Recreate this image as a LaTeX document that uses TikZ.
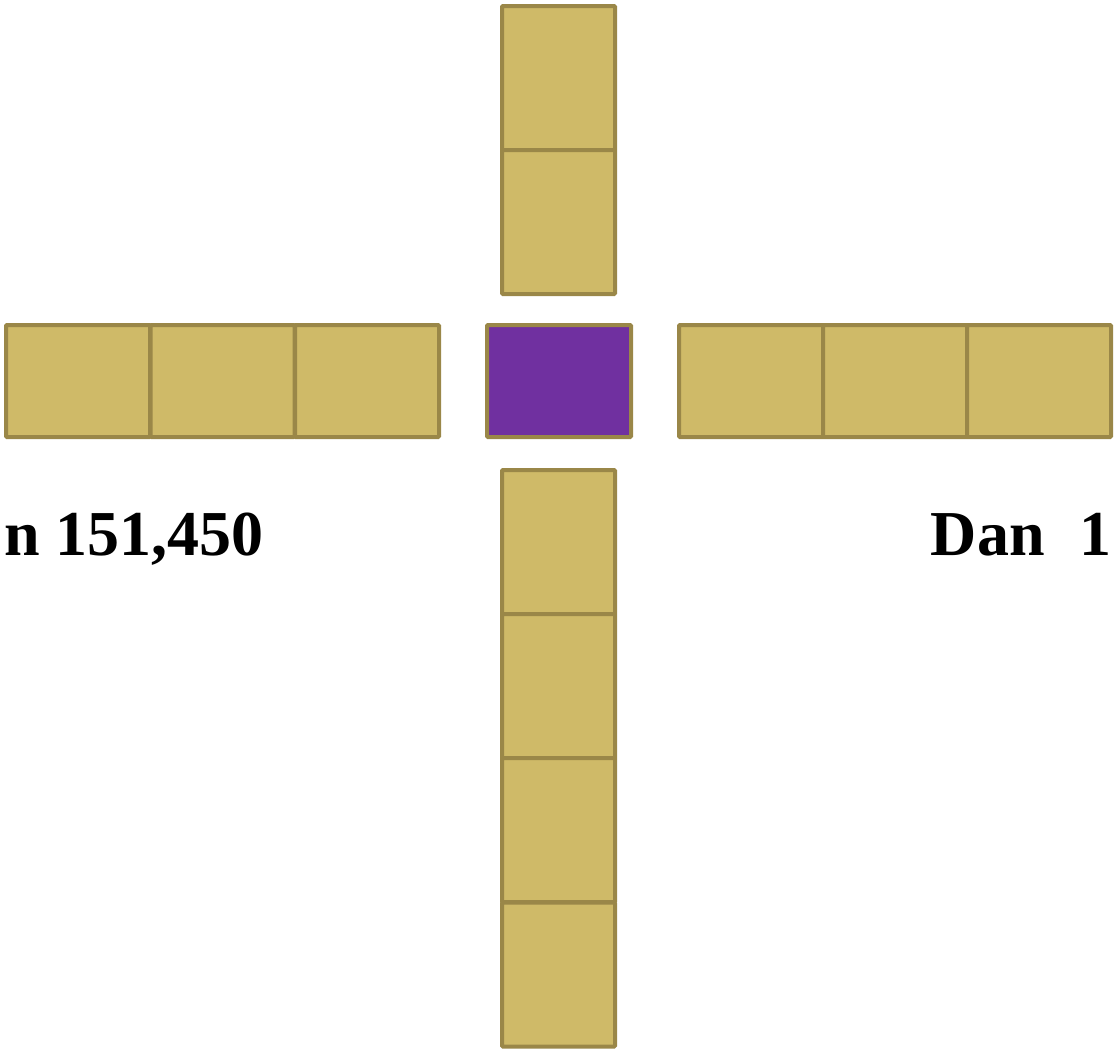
\documentclass[tikz,border=0pt]{standalone}
\usepackage{fontspec}
\setmainfont{Liberation Serif}
\definecolor{gold}{HTML}{CFBA68}
\definecolor{goldline}{HTML}{9A8748}
\definecolor{violet}{HTML}{7030A0}
\begin{document}
\begin{tikzpicture}[x=1pt,y=-1pt,
  cellv/.style={draw=goldline,fill=gold,line width=4pt,minimum width=113pt,minimum height=144pt,inner sep=0pt,rounded corners=1pt},
  cellh/.style={draw=goldline,fill=gold,line width=4pt,minimum width=144pt,minimum height=112pt,inner sep=0pt,rounded corners=1pt},
  lbl/.style={font=\fontsize{64}{70}\selectfont\bfseries,inner sep=0pt}]
\useasboundingbox (0,0) rectangle (1114,1053);
% top column
\node[cellv] (t1) at (558.5,78) {};
\node[cellv] (t2) at (558.5,222) {};
% left row
\node[cellh] (l1) at (78,381) {};
\node[cellh] (l2) at (222.5,381) {};
\node[cellh] (l3) at (367,381) {};
% centre
\node[cellh,fill=violet] (c) at (559,381) {};
% right row
\node[cellh] (r1) at (751,381) {};
\node[cellh] (r2) at (895,381) {};
\node[cellh] (r3) at (1039,381) {};
% bottom column
\node[cellv] (b1) at (558.5,542) {};
\node[cellv] (b2) at (558.5,686) {};
\node[cellv] (b3) at (558.5,830) {};
\node[cellv] (b4) at (558.5,974.5) {};
% labels
\node[lbl,anchor=base east] (lt) at (264,555) {n 151,450};
\node[lbl,anchor=base east] (rt) at (1112,555) {Dan\hspace{0.55em}1};
\end{tikzpicture}
\end{document}
